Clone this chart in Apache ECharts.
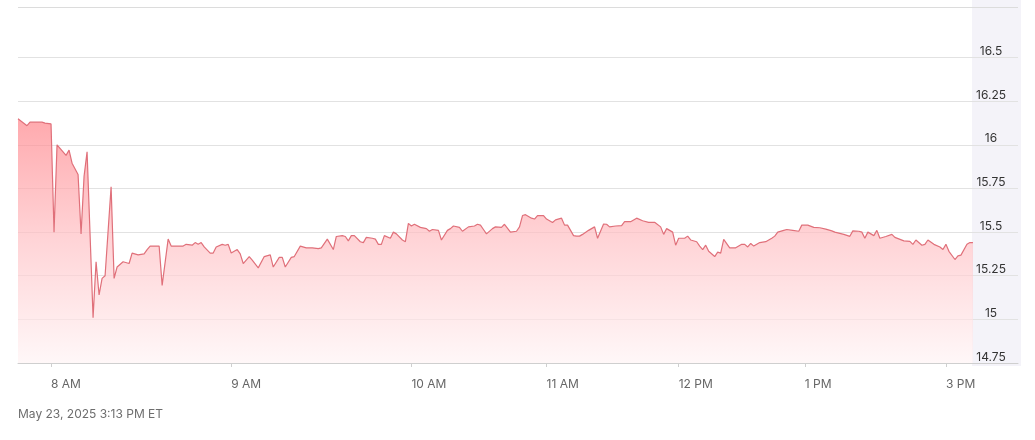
<!DOCTYPE html>
<html>
<head>
<meta charset="utf-8">
<script src="https://cdn.jsdelivr.net/npm/echarts/dist/echarts.min.js"></script>
<style>
html,body{margin:0;padding:0;background:#fff;}
#chart{width:1035px;height:440px;}
</style>
</head>
<body>
<div id="chart"></div>
<script>
// Session slots (ordinal trading positions) and prices
const slots = [0,3,4,8,9,11,12,13,16,17,18,20,21,22,23,25,26,27,28,29,31,32,33,35,37,38,40,42,43,44,47,48,50,51,55,56,58,59,60,61,62,64,65,66,68,69,70,71,73,74,75,77,78,80,82,84,85,87,88,89,91,92,94,96,98,100,101,103,105,106,108,109,110,111,112,114,115,116,118,119,120,121,122,124,125,126,128,129,130,131,132,134,136,137,138,140,141,143,144,145,147,148,150,152,153,154,155,156,158,159,161,162,164,166,167,168,169,171,172,173,175,176,178,179,181,182,183,185,186,187,188,190,192,193,195,196,197,199,201,202,204,205,206,208,210,212,214,215,216,218,219,220,222,223,224,226,227,228,229,230,232,233,234,235,237,239,241,242,243,244,245,247,249,251,252,253,255,256,258,260,261,263,265,267,269,271,272,275,277,278,280,281,282,283,285,286,287,289,291,292,295,297,298,299,301,302,303,305,307,308,309,310,312,313,314,316,317,318];
const prices = [16.15,16.11,16.13,16.13,16.125,16.12,15.50,16.00,15.94,15.97,15.895,15.83,15.49,15.82,15.96,15.01,15.33,15.14,15.235,15.25,15.76,15.235,15.30,15.33,15.32,15.38,15.37,15.375,15.40,15.42,15.42,15.195,15.46,15.42,15.42,15.43,15.425,15.44,15.43,15.44,15.415,15.38,15.38,15.415,15.43,15.425,15.43,15.38,15.40,15.375,15.32,15.36,15.34,15.295,15.36,15.37,15.30,15.355,15.355,15.30,15.355,15.36,15.42,15.41,15.41,15.405,15.41,15.46,15.40,15.475,15.48,15.475,15.45,15.48,15.48,15.445,15.44,15.47,15.465,15.46,15.43,15.43,15.48,15.465,15.50,15.49,15.455,15.445,15.55,15.535,15.545,15.527,15.52,15.505,15.515,15.51,15.455,15.51,15.52,15.535,15.527,15.505,15.53,15.535,15.545,15.54,15.515,15.49,15.52,15.53,15.527,15.545,15.50,15.505,15.53,15.595,15.60,15.58,15.575,15.595,15.595,15.575,15.555,15.57,15.58,15.54,15.54,15.48,15.477,15.477,15.487,15.51,15.53,15.465,15.546,15.545,15.53,15.535,15.537,15.56,15.56,15.57,15.58,15.565,15.556,15.556,15.53,15.487,15.52,15.50,15.425,15.465,15.465,15.477,15.455,15.445,15.42,15.40,15.425,15.39,15.36,15.385,15.38,15.458,15.41,15.41,15.43,15.43,15.415,15.435,15.42,15.44,15.445,15.465,15.477,15.50,15.51,15.515,15.51,15.505,15.54,15.54,15.527,15.525,15.517,15.507,15.50,15.487,15.476,15.507,15.505,15.50,15.465,15.50,15.48,15.51,15.465,15.475,15.487,15.47,15.45,15.447,15.43,15.455,15.425,15.43,15.455,15.43,15.415,15.40,15.43,15.39,15.343,15.364,15.368,15.43,15.44,15.44];
const tickSlots = [11,71,131,176,220,262,309];
const tickLabels = ['8 AM','9 AM','10 AM','11 AM','12 PM','1 PM','3 PM'];
const priceTicks = [14.75,15,15.25,15.5,15.75,16,16.25,16.5];
const footerText = 'May 23, 2025 3:13 PM ET';

const FONT = 'Inter, "Noto Sans", sans-serif';
const chart = echarts.init(document.getElementById('chart'), null, {renderer:'canvas'});
const data = slots.map((s,i)=>[s, prices[i]]);

// split line colours per tick: 14.75 ... 16.5 visible, 16.75 hidden, top edge visible
const GL = '#e2e2e2';
const splitColors = [GL,GL,GL,GL,GL,GL,GL,GL,'rgba(0,0,0,0)','#dcdcdc'];

chart.setOption({
  animation:false,
  backgroundColor:'#ffffff',
  title:{
    text: footerText, left:18, top:408, padding:0,
    textStyle:{fontSize:12, fontWeight:'normal', color:'#6e6e6e', fontFamily:FONT}
  },
  graphic:[{
    type:'rect', z:-10, silent:true,
    shape:{x:972, y:0, width:49, height:366},
    style:{fill:'#f4f3f9'}
  }],
  grid:{left:18, right:17, top:7, bottom:77, containLabel:false},
  xAxis:{
    type:'value', min:0, max:333,
    splitLine:{show:false},
    axisLine:{show:true, lineStyle:{color:'#cfcfcf', width:1}},
    axisTick:{show:true, customValues:tickSlots, length:4, lineStyle:{color:'#cfcfcf'}},
    axisLabel:{
      show:true, customValues:tickSlots, align:'left', margin:15,
      color:'#666', fontSize:12, fontFamily:FONT,
      formatter:(v)=>{const i=tickSlots.indexOf(Math.round(v)); return i>=0?tickLabels[i]:'';}
    }
  },
  yAxis:{
    type:'value', position:'right', min:14.75, max:16.79, interval:0.25,
    axisLine:{show:false}, axisTick:{show:false},
    splitLine:{show:true, lineStyle:{color:splitColors, width:1}},
    axisLabel:{
      inside:true, align:'center', verticalAlign:'bottom', margin:27,
      lineHeight:12, padding:0, showMaxLabel:false,
      color:'#333', fontSize:12, fontFamily:FONT,
      formatter:(v)=>{const r=Math.round(v*100)/100; const i=priceTicks.indexOf(r); return i>=0? String(priceTicks[i]):'';}
    }
  },
  series:[{
    type:'line', data:data, symbol:'none', smooth:false,
    lineStyle:{color:'#e0707a', width:1.2},
    areaStyle:{color:new echarts.graphic.LinearGradient(0,0,0,1,[
      {offset:0,color:'#ff858b'},{offset:0.5,color:'#ffc2c6'},{offset:1,color:'#fff4f5'}
    ])}
  }]
});
</script>
</body>
</html>
